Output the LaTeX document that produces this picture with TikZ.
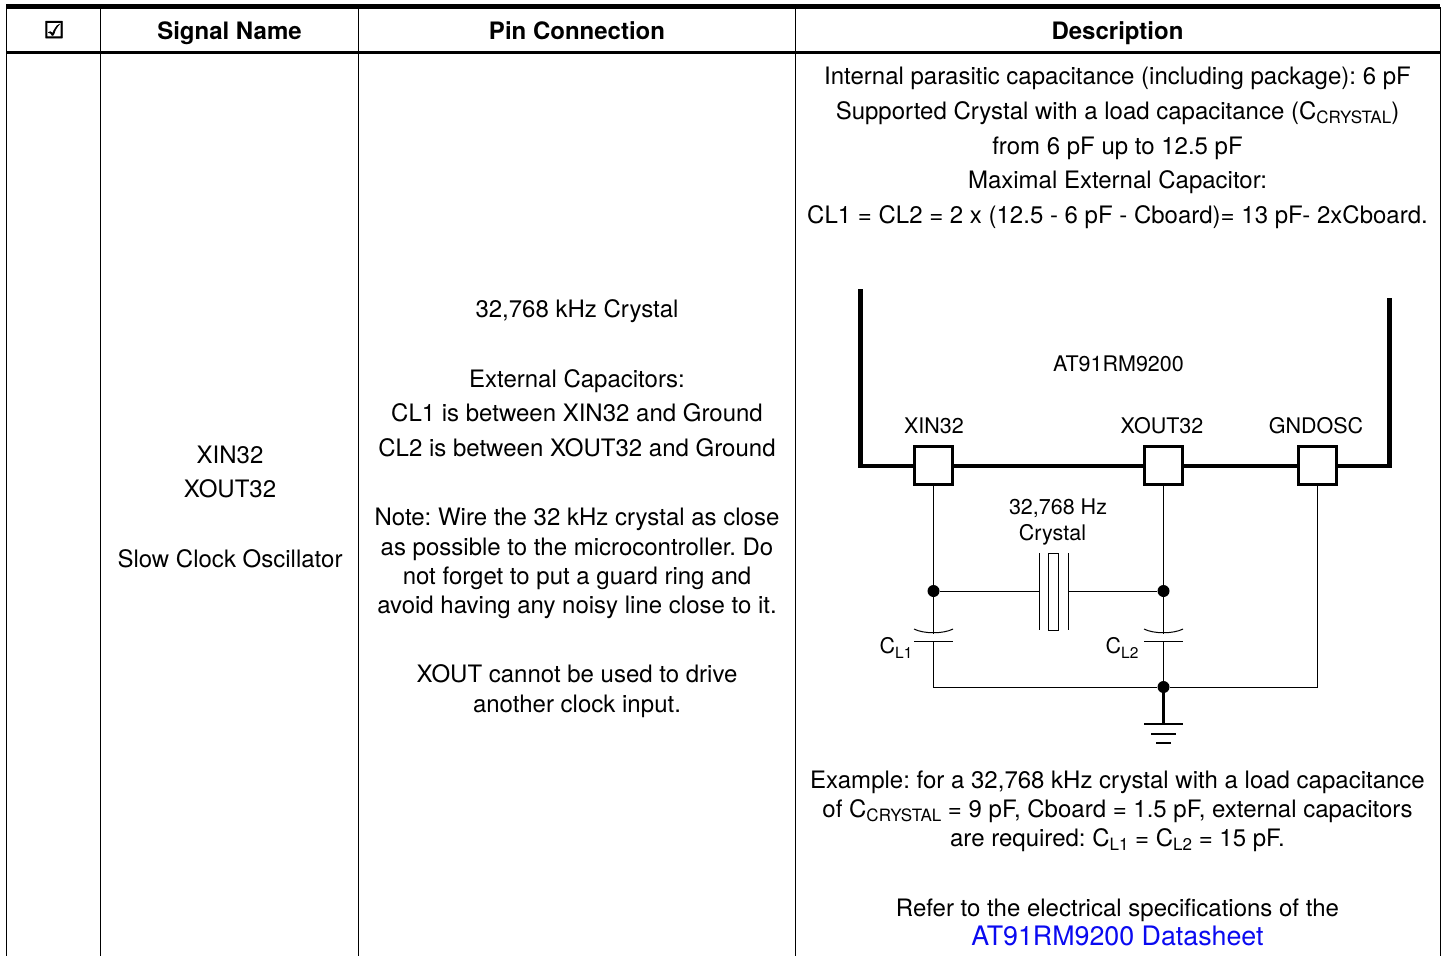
\documentclass[tikz,border=0pt]{standalone}
\usepackage{fontspec}
\setmainfont{TeX Gyre Heros}
\newfontfamily\symbfont[FakeBold=2.5]{DejaVu Sans}
\definecolor{color_link}{HTML}{0A0AF0}
\def\bodysize{\fontsize{24}{28}\selectfont\frenchspacing}
\def\chipsize{\fontsize{21.5}{25}\selectfont}
\newcommand{\lowbody}[1]{\raisebox{-4.5pt}{\fontsize{17}{20}\selectfont #1}}
\newcommand{\lowchip}[1]{\raisebox{-5pt}{\fontsize{15.5}{18}\selectfont #1}}
\tikzset{
    txt/.style={anchor=base, inner sep=0pt, font=\bodysize},
    head/.style={anchor=base, inner sep=0pt, font=\bodysize\bfseries},
    chiptxt/.style={anchor=base, inner sep=0pt, font=\chipsize},
    pad/.style={draw, line width=3pt, fill=white, minimum size=38pt, inner sep=0pt},
    junction/.style={circle, fill=black, minimum size=12pt, inner sep=0pt},
    wire/.style={line width=1pt},
}

\begin{document}
\begin{tikzpicture}[x=1pt,y=-1pt]
    \useasboundingbox (0,0) rectangle (1444,956);

    % table rules
    \draw[line width=5pt] (6,6.5) -- (1440,6.5);
    \draw[line width=3pt] (6,52) -- (1440,52);
    \foreach \x in {6,100,358,795,1440}
        \draw[line width=1pt] (\x,7) -- (\x,956);

    % header
    \node[anchor=base, inner sep=0pt, font=\symbfont\fontsize{23}{27}\selectfont] (check) at (54,38) {☑};
    \node[head] (signal) at (229.5,39) {Signal Name};
    \node[head] (pinconn) at (577,39) {Pin Connection};
    \node[head] (descr) at (1117.5,39) {Description};

    % signal column
    \foreach \y/\txt in {463/XIN32, 497/XOUT32, 567/Slow Clock Oscillator}
        \node[txt] (signal\y) at (230,\y) {\txt};

    % pin column
    \foreach \y/\txt in {
        317/{32,768 kHz Crystal},
        387/{External Capacitors:},
        421/{CL1 is between XIN32 and Ground},
        456/{CL2 is between XOUT32 and Ground},
        525/{Note: Wire the 32 kHz crystal as close},
        555/{as possible to the microcontroller. Do},
        584/{not forget to put a guard ring and},
        613/{avoid having any noisy line close to it.},
        682/{XOUT cannot be used to drive},
        712/{another clock input.}}
        \node[txt] (pin\y) at (577,\y) {\txt};

    % description column
    \foreach \y/\txt in {
        84/{Internal parasitic capacitance (including package): 6 pF},
        119/{Supported Crystal with a load capacitance (C\lowbody{CRYSTAL})},
        154/{from 6 pF up to 12.5 pF},
        188/{Maximal External Capacitor:},
        223/{CL1 = CL2 = 2 x (12.5 - 6 pF - Cboard)= 13 pF- 2xCboard.},
        788/{Example: for a 32,768 kHz crystal with a load capacitance},
        817/{of C\lowbody{CRYSTAL} = 9 pF, Cboard = 1.5 pF, external capacitors},
        846/{are required: C\lowbody{L1} = C\lowbody{L2} = 15 pF.},
        916/{Refer to the electrical specifications of the}}
        \node[txt] (desc\y) at (1117.5,\y) {\txt};
    \node[txt, font=\fontsize{26.8}{30}\selectfont, text=color_link] (datasheet) at (1117.5,945) {AT91RM9200 Datasheet};

    % chip outline
    \draw[line width=4.6pt, line join=miter] (860.5,289) -- (860.5,466) -- (1389.5,466) -- (1389.5,298);
    \node[chiptxt] (chip) at (1118.5,371) {AT91RM9200};

    % pads
    \node[pad] (xin) at (933.5,465.5) {};
    \node[pad] (xout) at (1163.5,465.5) {};
    \node[pad] (gnd) at (1317,465.5) {};
    \node[chiptxt] (xinlabel) at (934,433) {XIN32};
    \node[chiptxt] (xoutlabel) at (1162,433) {XOUT32};
    \node[chiptxt] (gndlabel) at (1316,433) {GNDOSC};

    % junctions and helper points
    \node[junction] (jleft) at (933.5,591) {};
    \node[junction] (jright) at (1163.5,591) {};
    \node[junction] (jbottom) at (1163.5,687) {};
    \coordinate (cornerleft) at (933.5,687);
    \coordinate (cornerright) at (1317,687);
    \coordinate (plateleft) at (1039,591);
    \coordinate (plateright) at (1068,591);
    \coordinate (caplefttop) at (933.5,634);
    \coordinate (capleftbot) at (933.5,641);
    \coordinate (caprighttop) at (1163.5,634);
    \coordinate (caprightbot) at (1163.5,641);
    \coordinate (ground) at (1163.5,724);

    % wires
    \draw[wire] (xin) -- (jleft) -- (caplefttop);
    \draw[wire] (capleftbot) -- (cornerleft) -- (jbottom) -- (cornerright) -- (gnd);
    \draw[wire] (xout) -- (jright) -- (caprighttop);
    \draw[wire] (caprightbot) -- (jbottom);
    \draw[wire] (jleft) -- (plateleft);
    \draw[wire] (plateright) -- (jright);

    % crystal
    \draw[wire] (1039,553) -- (1039,630);
    \draw[wire] (1068,553) -- (1068,630);
    \draw[wire] (1048.5,553) rectangle (1058,630);
    \node[chiptxt] (crystal1) at (1058,514.5) {32,768 Hz};
    \node[chiptxt] (crystal2) at (1052.5,540) {Crystal};

    % capacitors
    \foreach \x/\name/\sub/\lx in {933.5/L1/L1/896, 1163.5/L2/L2/1122}{
        \draw[wire] (\x-19.5,629) .. controls (\x-10,634) and (\x+10,634) .. (\x+19.5,629);
        \draw[wire] (\x-19.5,641) -- (\x+19.5,641);
        \node[chiptxt] (label\name) at (\lx,653) {C\lowchip{\sub}};
    }

    % ground
    \draw[line width=2.4pt] (jbottom) -- (ground);
    \draw[line width=2.6pt] (1144,724) -- (ground) -- (1183,724);
    \draw[line width=2.4pt] (1151,734) -- (1176,734);
    \draw[line width=2.4pt] (1156,743) -- (1171,743);
\end{tikzpicture}
\end{document}
